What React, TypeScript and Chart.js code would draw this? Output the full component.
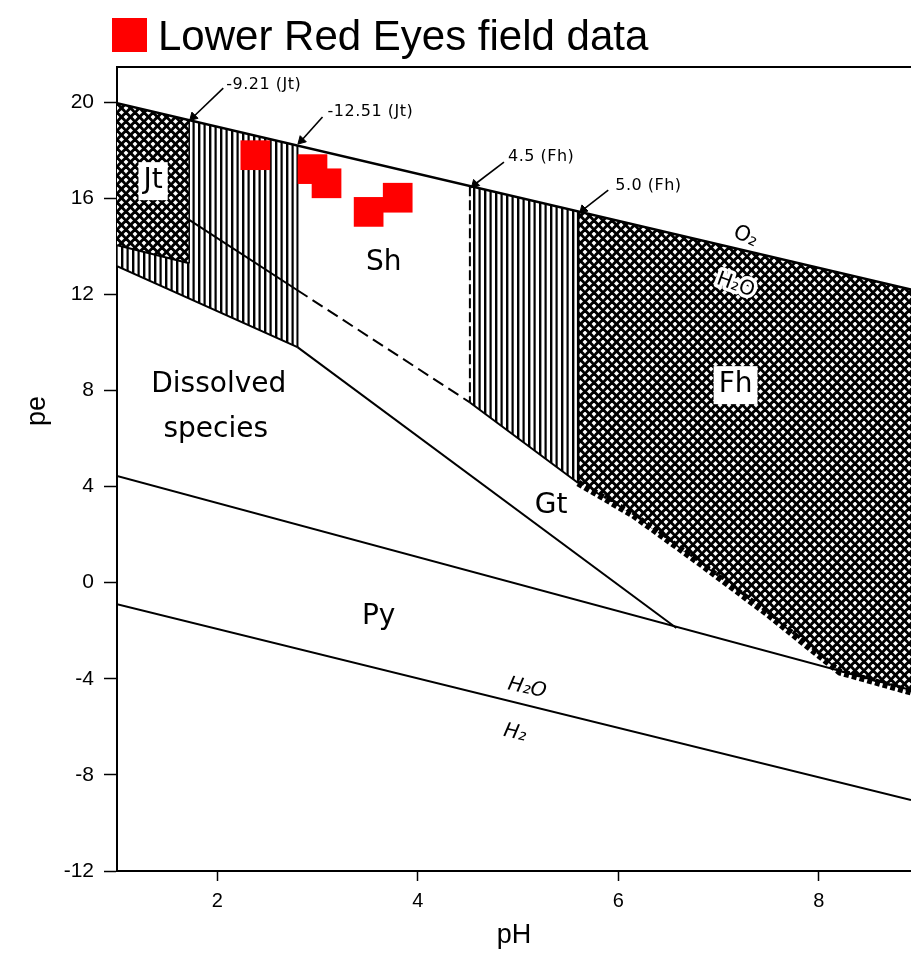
import React, { useEffect, useRef } from 'react';
import { Chart, registerables } from 'chart.js';

Chart.register(...registerables);

// ---- axes ----
const PH_MIN = 1;
const PH_MAX = 8.92;
const PE_MIN = -12;
const PE_MAX = 21.46;
const X_TICKS = [2, 4, 6, 8];
const Y_TICKS = [-12, -8, -4, 0, 4, 8, 12, 16, 20];

// ---- field data ----
const FIELD_LABEL = 'Lower Red Eyes field data';
const FIELD_PH = [2.38, 2.95, 3.09, 3.51, 3.8];
const FIELD_PE = [17.79, 17.21, 16.62, 15.43, 16.02];

// ---- boundaries [pH, pe] ----
const O2_H2O = [[1, 19.95], [8.92, 12.2]];
const H2O_H2 = [[1, -0.9], [8.92, -9.05]];
const PY_UPPER = [[1, 4.44], [8.92, -4.47]];
const GT_LOWER = [[2.8, 9.8], [6.58, -1.89]];
const DISSOLVED_UPPER = [[1, 13.17], [2.8, 9.8]];
const JT_LOWER = [[1, 14.04], [1.72, 13.29]];
const SH_LOWER_SOLID = [[1.72, 15.1], [2.8, 12.17]];
const SH_LOWER_DASHED = [[2.8, 12.17], [4.52, 7.5]];
const FH45_LOWER = [[4.52, 7.5], [5.6, 4.15]];
const FH_LOWER = [[5.6, 4.15], [6.15, 2.81], [6.81, 0.82], [7.48, -1.27], [8.21, -3.72], [8.92, -4.55]];
const JT_EDGE = [[1.72, 19.25], [1.72, 13.29]];
const JT1251_EDGE = [[2.8, 18.19], [2.8, 9.8]];
const FH45_EDGE = [[4.52, 16.5], [4.52, 7.5]];
const FH50_EDGE = [[5.6, 15.45], [5.6, 4.15]];

// ---- arrows (from label to boundary) ----
const ARROW_921 = [[2.06, 20.58], [1.76, 19.38]];
const ARROW_1251 = [[3.05, 19.38], [2.84, 18.4]];
const ARROW_45 = [[4.86, 17.5], [4.57, 16.58]];
const ARROW_50 = [[5.9, 16.34], [5.65, 15.52]];

// ---- regions (first point leftmost, last point rightmost) ----
const JT_REGION = [[1, 14.04], [1, 19.95], [1.72, 19.25], [1.72, 13.29]];
const JT1251_REGION = [[1, 13.17], [1, 14.04], [1.72, 13.29], [1.72, 19.25], [2.8, 18.19], [2.8, 9.8]];
const FH45_REGION = [[4.52, 7.5], [4.52, 16.5], [5.6, 15.45], [5.6, 4.15]];
const FH_REGION = [[5.6, 15.45], [5.6, 4.15], [6.15, 2.81], [6.81, 0.82], [7.48, -1.27], [8.21, -3.72], [8.92, -4.55], [8.92, 12.2]];

// ---- text labels placed in data coordinates ----
const ANNOTATIONS = [
  { text: '-9.21 (Jt)', x: 2.09, y: 20.71, size: 16, align: 'left', spacing: 0.5 },
  { text: '-12.51 (Jt)', x: 3.1, y: 19.58, size: 16, align: 'left', spacing: 0.5 },
  { text: '4.5 (Fh)', x: 4.9, y: 17.71, size: 16, align: 'left', spacing: 0.5 },
  { text: '5.0 (Fh)', x: 5.97, y: 16.5, size: 16, align: 'left', spacing: 0.5 },
  { text: 'Jt', x: 1.36, y: 16.71, size: 28, box: 5 },
  { text: 'Sh', x: 3.66, y: 13.3, size: 28 },
  { text: 'Dissolved', x: 2.015, y: 8.22, size: 28 },
  { text: 'species', x: 1.985, y: 6.35, size: 28 },
  { text: 'Gt', x: 5.33, y: 3.19, size: 28 },
  { text: 'Py', x: 3.61, y: -1.43, size: 28 },
  { text: 'Fh', x: 7.17, y: 8.22, size: 28, box: 5 },
  { text: 'O₂', x: 7.27, y: 14.4, size: 21, rot: 25 },
  { text: 'H₂O', x: 7.17, y: 12.38, size: 20, rot: 20, halo: 7 },
  { text: 'H₂O', x: 5.09, y: -4.39, size: 20, rot: 12, italic: true },
  { text: 'H₂', x: 4.97, y: -6.26, size: 20, rot: 12, italic: true },
];

const SANS = '"Liberation Sans", Arial, sans-serif';
const DIAGRAM_FONT = '"DejaVu Sans", sans-serif';

const pts = (a: number[][]) => a.map(([x, y]) => ({ x, y }));

function crossPattern(ctx: CanvasRenderingContext2D) {
  const c = document.createElement('canvas');
  c.width = 9;
  c.height = 9;
  const g = c.getContext('2d')!;
  g.fillStyle = '#fff';
  g.fillRect(0, 0, 9, 9);
  g.strokeStyle = '#000';
  g.lineWidth = 2.9;
  for (let k = -3; k <= 3; k++) {
    const o = k * 9 + 4.5;
    g.beginPath();
    g.moveTo(o - 30, -30);
    g.lineTo(o + 30, 30);
    g.stroke();
    g.beginPath();
    g.moveTo(o + 30, -30);
    g.lineTo(o - 30, 30);
    g.stroke();
  }
  return ctx.createPattern(c, 'repeat');
}

function verticalPattern(ctx: CanvasRenderingContext2D) {
  const c = document.createElement('canvas');
  c.width = 11;
  c.height = 4;
  const g = c.getContext('2d')!;
  g.fillStyle = '#fff';
  g.fillRect(0, 0, 11, 4);
  g.fillStyle = '#000';
  g.fillRect(0, 0, 2.4, 4);
  g.fillRect(5.5, 0, 2.2, 4);
  return ctx.createPattern(c, 'repeat');
}

const zeroPad = (s: any) => {
  s.paddingLeft = 0;
  s.paddingRight = 0;
  s.paddingTop = 0;
  s.paddingBottom = 0;
};

const annotationPlugin = {
  id: 'phAnnotations',
  afterDatasetsDraw(chart: any) {
    const { ctx } = chart;
    const xs = chart.scales.x;
    const ys = chart.scales.y;
    for (const a of ANNOTATIONS as any[]) {
      const px = xs.getPixelForValue(a.x);
      const py = ys.getPixelForValue(a.y);
      ctx.save();
      ctx.translate(px, py);
      if (a.rot) ctx.rotate((a.rot * Math.PI) / 180);
      ctx.font = `${a.italic ? 'italic ' : ''}${a.size}px ${DIAGRAM_FONT}`;
      if (a.spacing) (ctx as any).letterSpacing = `${a.spacing}px`;
      ctx.textAlign = a.align || 'center';
      ctx.textBaseline = 'middle';
      if (a.box) {
        const w = ctx.measureText(a.text).width;
        ctx.fillStyle = '#fff';
        ctx.fillRect(-w / 2 - a.box, -a.size * 0.5 - a.box, w + 2 * a.box, a.size + 2 * a.box);
      }
      if (a.halo) {
        ctx.strokeStyle = '#fff';
        ctx.lineWidth = a.halo;
        ctx.lineJoin = 'round';
        ctx.strokeText(a.text, 0, 0);
      }
      ctx.fillStyle = '#000';
      ctx.fillText(a.text, 0, 0);
      ctx.restore();
    }
  },
  afterDraw(chart: any) {
    const { ctx } = chart;
    const ds = chart.data.datasets[0];
    ctx.save();
    // legend
    ctx.fillStyle = ds.backgroundColor;
    ctx.fillRect(112, 18, 35, 34);
    ctx.fillStyle = '#000';
    ctx.font = `42px ${SANS}`;
    ctx.textAlign = 'left';
    ctx.textBaseline = 'alphabetic';
    ctx.fillText(ds.label, 158, 50);
    // y title
    ctx.translate(38, 411);
    ctx.rotate(-Math.PI / 2);
    ctx.textAlign = 'center';
    ctx.textBaseline = 'middle';
    ctx.font = `27px ${SANS}`;
    ctx.fillText('pe', 0, 0);
    ctx.restore();
  },
};

export default function App() {
  const ref = useRef<HTMLCanvasElement>(null);

  useEffect(() => {
    const canvas = ref.current!;
    const ctx = canvas.getContext('2d')!;
    const cross = crossPattern(ctx);
    const vert = verticalPattern(ctx);

    const line = (data: number[][], extra: any = {}) => ({
      data: pts(data),
      showLine: true,
      borderColor: '#000',
      borderWidth: 2,
      pointRadius: 0,
      pointHoverRadius: 0,
      fill: false,
      ...extra,
    });
    const arrow = (data: number[][]) =>
      line(data, {
        borderWidth: 1.6,
        pointRadius: [0, 5],
        pointStyle: 'triangle',
        pointRotation: 225,
        pointBackgroundColor: '#000',
        pointBorderColor: '#000',
        pointBorderWidth: 1,
      });
    const region = (data: number[][], pattern: any) =>
      line(data, { borderWidth: 0, borderColor: 'rgba(0,0,0,0)', backgroundColor: pattern, fill: 'shape' });

    const chart = new Chart(canvas, {
      type: 'scatter',
      data: {
        datasets: [
          {
            label: FIELD_LABEL,
            data: FIELD_PH.map((x, i) => ({ x, y: FIELD_PE[i] })),
            backgroundColor: '#ff0000',
            borderColor: '#ff0000',
            pointStyle: 'rect',
            pointRadius: 21,
            pointHoverRadius: 21,
            pointBorderWidth: 0,
            showLine: false,
          },
          line(O2_H2O, { borderWidth: 2.4 }),
          line(H2O_H2),
          line(PY_UPPER),
          line(GT_LOWER),
          line(DISSOLVED_UPPER),
          line(JT_LOWER),
          line(SH_LOWER_SOLID),
          line(SH_LOWER_DASHED, { borderDash: [12, 6] }),
          line(FH45_LOWER),
          line(JT_EDGE, { borderWidth: 1.5 }),
          line(JT1251_EDGE, { borderWidth: 2 }),
          line(FH45_EDGE, { borderWidth: 2, borderDash: [10, 4] }),
          line(FH50_EDGE, { borderWidth: 2.5 }),
          line(FH_LOWER, { borderWidth: 7, borderDash: [5, 3] }),
          arrow(ARROW_921),
          arrow(ARROW_1251),
          arrow(ARROW_45),
          arrow(ARROW_50),
          region(JT_REGION, cross),
          region(JT1251_REGION, vert),
          region(FH45_REGION, vert),
          region(FH_REGION, cross),
        ],
      },
      options: {
        responsive: false,
        animation: false,
        events: [],
        layout: { autoPadding: false, padding: { top: 37, left: 0, right: 0, bottom: 0 } },
        plugins: {
          legend: { display: false },
          tooltip: { enabled: false },
        },
        scales: {
          x: {
            type: 'linear',
            position: 'bottom',
            min: PH_MIN,
            max: PH_MAX,
            afterBuildTicks: (s: any) => {
              s.ticks = X_TICKS.map((v) => ({ value: v }));
            },
            afterFit: (s: any) => {
              s.height = 84;
              zeroPad(s);
            },
            grid: { drawOnChartArea: false, drawTicks: true, tickLength: 10, tickColor: '#000', tickWidth: 1.5 },
            border: { display: true, color: '#000', width: 2 },
            ticks: { color: '#000', font: { family: SANS, size: 20 }, padding: 8, maxRotation: 0 },
            title: { display: true, text: 'pH', color: '#000', font: { family: SANS, size: 27 }, padding: { top: 0, bottom: 3 } },
          },
          x2: {
            type: 'linear',
            position: 'top',
            min: PH_MIN,
            max: PH_MAX,
            afterFit: (s: any) => {
              s.height = 30;
              zeroPad(s);
            },
            grid: { drawOnChartArea: false, drawTicks: false },
            ticks: { display: false },
            border: { display: true, color: '#000', width: 2 },
          },
          y: {
            type: 'linear',
            position: 'left',
            min: PE_MIN,
            max: PE_MAX,
            afterBuildTicks: (s: any) => {
              s.ticks = Y_TICKS.map((v) => ({ value: v }));
            },
            afterFit: (s: any) => {
              s.width = 117;
              zeroPad(s);
            },
            grid: { drawOnChartArea: false, drawTicks: true, tickLength: 13, tickColor: '#000', tickWidth: 1.5 },
            border: { display: true, color: '#000', width: 2 },
            ticks: { color: '#000', font: { family: SANS, size: 21 }, padding: 10 },
          },
        },
      } as any,
      plugins: [annotationPlugin],
    } as any);

    return () => chart.destroy();
  }, []);

  return (
    <div style={{ position: 'absolute', left: 0, top: 0, width: 911, height: 955 }}>
      <canvas ref={ref} width={911} height={955} style={{ display: 'block' }} />
    </div>
  );
}
